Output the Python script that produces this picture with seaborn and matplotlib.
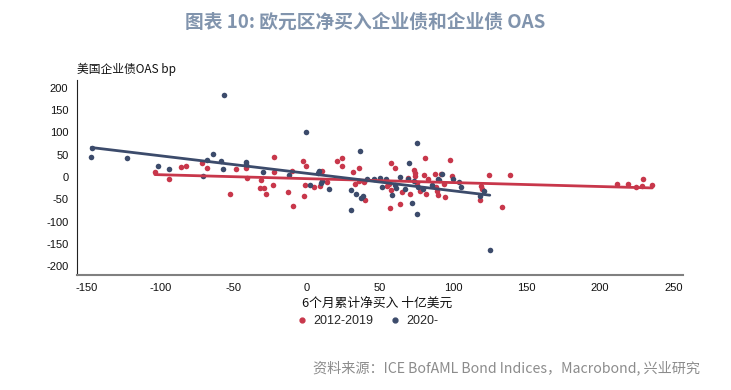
import matplotlib
matplotlib.use("Agg")
import matplotlib.pyplot as plt
import seaborn as sns
import pandas as pd
from matplotlib.lines import Line2D

# ---- data ----
x_2012 = [-103.6, -94.1, -85.9, -82.5, -71.4, -68.4, -52.5, -48.4, -41.4, -40.9,
          -31.0, -32.0, -29.3, -27.5, -23.2, -22.1, -22.1, -12.5, -10.2, -9.3,
          -2.5, -0.7, -1.2, -1.6, 5.2, 10.2, 9.3, 14.0, 20.9, 24.3,
          24.3, 31.8, 32.9, 35.7, 35.9, 39.3, 40.0, 54.7, 56.0, 57.3, 57.4, 57.0,
          60.4, 63.6, 65.0, 69.3, 70.6, 73.4, 74.0, 74.1, 75.0, 77.3,
          80.4, 80.2, 81.1, 82.5, 87.7, 88.0, 88.8, 89.7, 91.8, 93.6,
          94.5, 97.5, 99.3, 118.2, 119.0, 119.3, 124.0, 133.4, 138.4,
          211.6, 219.1, 224.5, 228.4, 229.3, 235.6]
y_2012 = [10.4, -4.5, 22.4, 24.6, 30.6, 19.4, -37.3, 18.6, 21.0, -3.0,
          -6.0, -24.0, -24.0, -37.3, -18.6, 44.0, 10.0, -34.0, 14.0, -65.0,
          35.8, 25.0, -17.0, -42.0, -23.0, 13.4, -21.0, -10.5, 35.0, 43.0,
          24.6, 10.4, -15.0, 21.0, -9.0, -11.2, -52.0, -19.4, -16.0, 32.0, -29.0, -69.4,
          19.4, -61.0, -33.6, -2.2, -38.0, 15.7, 9.7, 3.0, -14.0, -31.0,
          41.8, 4.5, -38.0, -4.5, 6.0, -23.0, -31.0, -40.0, 6.0, -15.7,
          -46.0, 37.4, 3.0, -52.0, -20.0, -27.0, 3.7, -66.5, 4.5,
          -16.4, -15.7, -21.6, -19.4, -5.3, -17.0]

x_2020 = [-146.6, -147.0, -122.7, -101.6, -93.7, -70.5, -68.2, -63.7, -58.4, -57.3,
          -56.4, -41.4, -41.4, -29.6, -12.3, -0.7, 2.5, 7.5, 8.2, 9.7,
          10.4, 14.8, 30.2, 30.2, 33.6, 36.6, 37.0, 38.6, 41.0, 46.0,
          50.0, 51.6, 54.0, 58.0, 60.2, 61.0, 63.8, 67.0, 68.9, 69.7,
          71.8, 73.2, 75.2, 75.2, 76.1, 79.5, 85.4, 89.4, 90.2, 92.3,
          100.0, 104.0, 105.0, 118.3, 120.8, 124.8]
y_2020 = [65.6, 44.8, 43.2, 24.6, 17.9, 1.0, 37.6, 52.0, 36.5, 18.0,
          182.9, 33.3, 28.4, 12.0, 3.8, 100.0, -18.0, 8.0, 12.5, -14.5,
          -10.0, -26.5, -28.5, -75.0, -38.5, 59.0, -48.0, -42.0, -5.0, -5.0,
          -2.5, -22.0, -4.5, -40.0, -18.0, -24.0, -0.8, -28.0, -5.0, 32.0,
          -57.3, -9.0, 75.7, -83.6, -21.6, -26.5, -18.6, -4.2, -6.5, 6.0,
          -5.0, -11.0, -23.0, -42.2, -30.8, -162.5]

labels = ["2012-2019", "2020-"]
title = "图表 10: 欧元区净买入企业债和企业债 OAS"
ylabel = "美国企业债OAS bp"
xlabel = "6个月累计净买入 十亿美元"
source = "资料来源：ICE BofAML Bond Indices，Macrobond, 兴业研究"
xticks = [-150, -100, -50, 0, 50, 100, 150, 200, 250]
yticks = [-200, -150, -100, -50, 0, 50, 100, 150, 200]

RED = "#C8374B"
BLUE = "#3C4B6B"

df = pd.concat([
    pd.DataFrame({"x": x_2012, "y": y_2012, "g": labels[0]}),
    pd.DataFrame({"x": x_2020, "y": y_2020, "g": labels[1]}),
])

sns.set_theme(style="white")
plt.rcParams["font.family"] = ["Noto Sans CJK SC", "DejaVu Sans"]
plt.rcParams["axes.unicode_minus"] = False

fig = plt.figure(figsize=(7.31, 3.90), dpi=100)
ax = fig.add_axes([0.105, 0.295, 0.829, 0.501])

for lab, col in zip(labels, [RED, BLUE]):
    sub = df[df["g"] == lab]
    sns.regplot(data=sub, x="x", y="y", ax=ax, ci=None, color=col,
                scatter_kws={"s": 16, "linewidths": 0, "alpha": 1},
                line_kws={"linewidth": 2.0, "color": col})

ax.set_xlim(-156.9, 256.4)
ax.set_ylim(-219.4, 218)
ax.set_xticks(xticks)
ax.set_yticks(yticks)
ax.set_xticklabels([str(v) for v in xticks], fontfamily="Liberation Sans", fontsize=8)
ax.set_yticklabels([str(v) for v in yticks], fontfamily="Liberation Sans", fontsize=8)
ax.set_xlabel("")
ax.set_ylabel("")

for s in ["top", "right"]:
    ax.spines[s].set_visible(False)
ax.spines["left"].set_color("#222222")
ax.spines["left"].set_linewidth(0.8)
ax.spines["bottom"].set_color("#808080")
ax.spines["bottom"].set_linewidth(1.5)
ax.tick_params(axis="y", direction="out", length=4, width=0.8, color="#222222", pad=2, labelcolor="#111111")
ax.tick_params(axis="x", direction="out", length=4, width=1.0, color="#808080", pad=2, labelcolor="#111111")

fig.text(0.5, 0.944, title, ha="center", va="center", fontsize=13.5,
         fontweight="bold", color="#8194AD")
fig.text(0.105, 0.822, ylabel, ha="left", va="center", fontsize=8.5, color="#111111")
fig.text(0.516, 0.222, xlabel, ha="center", va="center", fontsize=9.2, color="#111111")
fig.text(0.958, 0.057, source, ha="right", va="center", fontsize=10.2, color="#8C8C8C")

handles = [Line2D([], [], marker="o", linestyle="", color=RED, markersize=3.5),
           Line2D([], [], marker="o", linestyle="", color=BLUE, markersize=3.5)]
fig.legend(handles, labels, loc="center", bbox_to_anchor=(0.502, 0.177), ncol=2,
           frameon=False, handletextpad=0.4, columnspacing=1.2, handlelength=1.0,
           prop={"family": "Liberation Sans", "size": 9})

fig.savefig("out.png", dpi=100)
